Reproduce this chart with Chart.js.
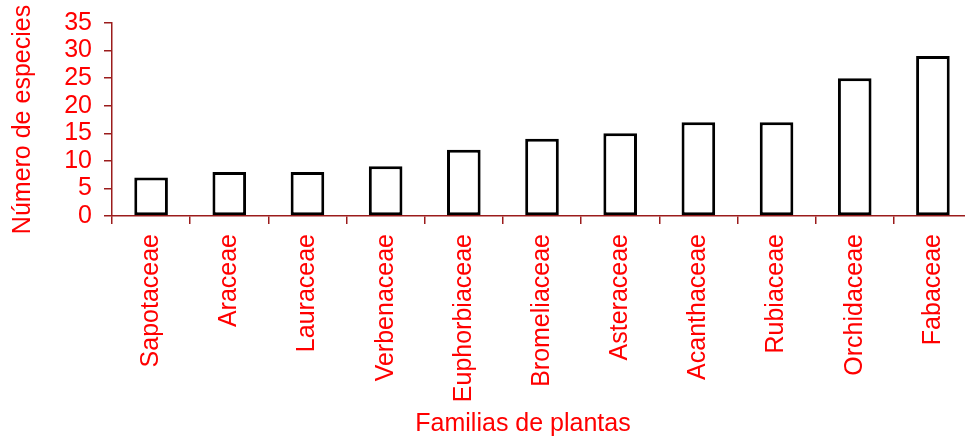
<!DOCTYPE html>
<html>
<head>
<meta charset="utf-8">
<script src="https://cdn.jsdelivr.net/npm/chart.js@4/dist/chart.umd.min.js"></script>
<style>
  html, body { margin: 0; padding: 0; background: #fff; overflow: hidden; }
  #wrap { width: 975px; height: 439px; }
</style>
</head>
<body>
<div id="wrap"><canvas id="speciesChart" width="975" height="439"></canvas></div>
<script>
// DATA
const familias = ['Sapotaceae', 'Araceae', 'Lauraceae', 'Verbenaceae', 'Euphorbiaceae',
    'Bromeliaceae', 'Asteraceae', 'Acanthaceae', 'Rubiaceae', 'Orchidaceae', 'Fabaceae'];
const especies = [7, 8, 8, 9, 12, 14, 15, 17, 17, 25, 29];
const yTicks = [0, 5, 10, 15, 20, 25, 30, 35];
const xTitle = 'Familias de plantas';

const RED = '#ff0000';
const AXIS = '#9b1c1c';
const FONT = 'Liberation Sans, Arial, sans-serif';

// x title is centred on the visible page, not on the (clipped) plot area
const xTitlePlugin = {
    id: 'xTitle',
    afterDraw(chart) {
        const c = chart.ctx;
        c.save();
        c.fillStyle = RED;
        c.font = '25px ' + FONT;
        c.textAlign = 'center';
        c.textBaseline = 'middle';
        c.fillText(xTitle, 523, 424);
        c.restore();
    }
};

// CHART
const ctx = document.getElementById('speciesChart').getContext('2d');
const speciesChart = new Chart(ctx, {
    type: 'bar',
    data: {
        labels: familias,
        datasets: [{
            label: 'Número de especies',
            data: especies,
            backgroundColor: '#ffffff',
            borderColor: '#000000',
            borderWidth: 3,
            borderSkipped: false,
            barPercentage: 0.43,
            categoryPercentage: 1.0
        }]
    },
    options: {
        responsive: false,
        animation: false,
        layout: { padding: { top: 23, right: 3, left: 0, bottom: 0 } },
        plugins: { legend: { display: false }, tooltip: { enabled: false } },
        scales: {
            x: {
                offset: true,
                grid: { drawOnChartArea: false, color: AXIS, tickLength: 8, lineWidth: 1.5, offset: true },
                border: { color: AXIS, width: 1.5 },
                ticks: {
                    color: RED, font: { family: FONT, size: 25 },
                    maxRotation: 90, minRotation: 90, padding: 10, autoSkip: false
                },
                title: { display: false },
                afterFit: scale => {
                    scale.height = 223;
                    scale.paddingLeft = 0;
                    scale.paddingRight = 0;
                }
            },
            y: {
                min: 0, max: 35,
                afterBuildTicks: scale => { scale.ticks = yTicks.map(v => ({ value: v })); },
                grid: { drawOnChartArea: false, color: AXIS, tickLength: 8, lineWidth: 1.5 },
                border: { color: AXIS, width: 1.5 },
                ticks: { color: RED, font: { family: FONT, size: 25 }, padding: 12, autoSkip: false },
                title: {
                    display: true, text: 'Número de especies', color: RED,
                    font: { family: FONT, size: 25 }, padding: { top: 8, bottom: 0 }
                },
                afterFit: scale => {
                    scale.width = 112;
                    scale.paddingTop = 0;
                    scale.paddingBottom = 0;
                }
            }
        }
    },
    plugins: [xTitlePlugin]
});
</script>
</body>
</html>
